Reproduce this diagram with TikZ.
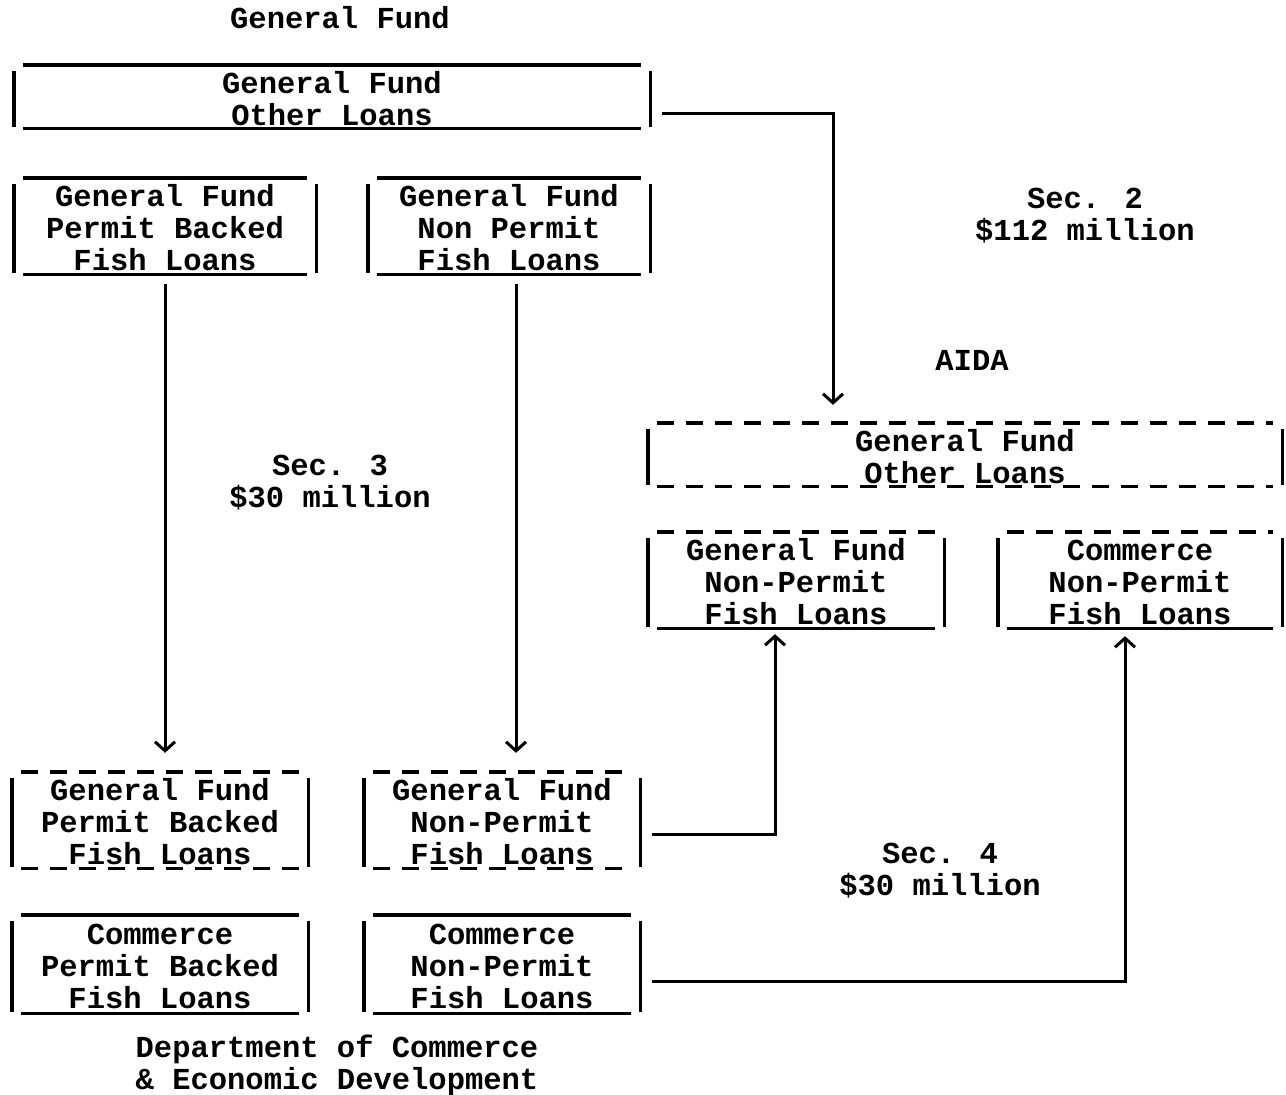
\documentclass[tikz,border=0pt]{standalone}
\usepackage{fontspec}
\setmainfont{Liberation Mono}
\usepackage{tikz}
\usetikzlibrary{positioning,arrows.meta,calc}

\tikzset{
  fbox/.style={inner sep=0pt, align=center},
  lbl/.style={align=center},
  edge/.style={line width=3.4pt},
  dtop/.style={line width=3.4pt, dash pattern=on 17pt off 12pt},
  conn/.style={line width=3pt, -{Straight Barb[length=9pt,width=20pt,line width=3pt]}}
}

\begin{document}
\begin{tikzpicture}[x=1pt,y=-1pt,font=\fontsize{30.5pt}{32pt}\selectfont\bfseries]
\useasboundingbox (0,0) rectangle (1286,1095);

% Titles and section labels
\node[lbl] (tgf) at (340,18) {General Fund};
\node[lbl] (taida) at (972,360) {AIDA};
\node[lbl] (sec2) at (1085,216) {Sec. 2\\\$112 million};
\node[lbl] (sec3) at (330,483) {Sec. 3\\\$30 million};
\node[lbl] (sec4) at (940,871) {Sec. 4\\\$30 million};
\node[lbl] (tdept) at (337,1065) {Department of Commerce\\\& Economic Development};

% General Fund boxes
\node[fbox,minimum width=636pt,minimum height=63pt] (gfo) at (332,98.5) {General Fund\\Other Loans};
\node[fbox,minimum width=302pt,minimum height=96pt] (gfpb) at (165,228) {General Fund\\Permit Backed\\Fish Loans};
\node[fbox,minimum width=282pt,minimum height=96pt] (gfnp) at (509,228) {General Fund\\Non Permit\\Fish Loans};

% AIDA boxes
\node[fbox,minimum width=634pt,minimum height=63pt] (ao) at (965,456.5) {General Fund\\Other Loans};
\node[fbox,minimum width=296pt,minimum height=96pt] (ag) at (796,582) {General Fund\\Non-Permit\\Fish Loans};
\node[fbox,minimum width=284pt,minimum height=96pt] (ac) at (1140,582) {Commerce\\Non-Permit\\Fish Loans};

% Commerce & Economic Development boxes
\node[fbox,minimum width=296pt,minimum height=96pt] (lgp) at (160,822) {General Fund\\Permit Backed\\Fish Loans};
\node[fbox,minimum width=276pt,minimum height=96pt] (lgn) at (502,822) {General Fund\\Non-Permit\\Fish Loans};
\node[fbox,minimum width=296pt,minimum height=98pt] (cpb) at (160,966) {Commerce\\Permit Backed\\Fish Loans};
\node[fbox,minimum width=276pt,minimum height=98pt] (cnp) at (502,966) {Commerce\\Non-Permit\\Fish Loans};

% Side bars
\foreach \n in {gfo,gfpb,gfnp,ao,ag,ac,lgp,lgn,cpb,cnp} {
  \draw[edge] ([yshift=-4pt]\n.north west) -- ([yshift=3pt]\n.south west);
  \draw[edge] ([yshift=-4pt]\n.north east) -- ([yshift=3pt]\n.south east);
}
% Solid top lines
\foreach \n in {gfo,gfpb,gfnp,cpb,cnp}
  \draw[edge] ([xshift=9pt,yshift=2pt]\n.north west) -- ([xshift=-9pt,yshift=2pt]\n.north east);
% Dashed top lines
\foreach \n in {ao,ag,ac,lgp,lgn}
  \draw[dtop] ([xshift=9pt,yshift=2pt]\n.north west) -- ([xshift=-9pt,yshift=2pt]\n.north east);
% Solid bottom lines
\foreach \n in {gfo,gfpb,gfnp,ag,ac,cpb,cnp}
  \draw[edge] ([xshift=9pt,yshift=2pt]\n.south west) -- ([xshift=-9pt,yshift=2pt]\n.south east);
% Dashed bottom lines
\foreach \n in {ao,lgp,lgn}
  \draw[dtop] ([xshift=9pt,yshift=2pt]\n.south west) -- ([xshift=-9pt,yshift=2pt]\n.south east);

% Transfers
\draw[conn] ([xshift=12pt,yshift=-15pt]gfo.east) -| ([xshift=-132pt,yshift=20pt]ao.north);
\draw[conn] ([yshift=-8pt]gfpb.south) -- ([yshift=21pt]gfpb.south |- lgp.north);
\draw[conn] ([xshift=7pt,yshift=-8pt]gfnp.south) -- ([xshift=7pt,yshift=21pt]gfnp.south |- lgn.north);
\draw[conn] ([xshift=12pt,yshift=-12pt]lgn.east) -| ([xshift=-21pt,yshift=-4pt]ag.south);
\draw[conn] ([xshift=12pt,yshift=-15pt]cnp.east) -| ([xshift=-15pt,yshift=-6pt]ac.south);
\end{tikzpicture}
\end{document}
